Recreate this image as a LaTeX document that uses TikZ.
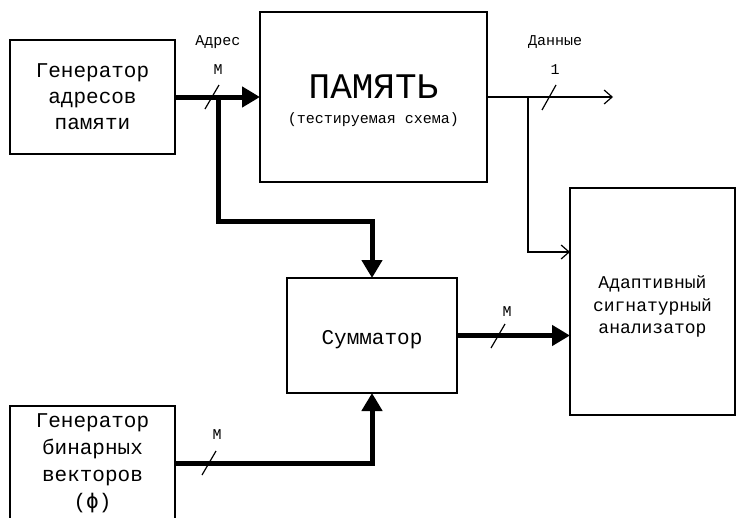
\documentclass[tikz,border=0pt]{standalone}
\usepackage{fontspec}
\newfontfamily\cour{Liberation Mono}
\newfontfamily\dvm{DejaVu Sans Mono}
\usetikzlibrary{arrows.meta,calc}
\begin{document}
\begin{tikzpicture}[x=1pt,y=-1pt,
 box/.style={draw, line width=1.2pt, inner sep=0pt, outer sep=0pt},
 bus/.style={line width=5pt, line join=miter, -{Triangle[length=18pt,width=20pt]}},
 wire/.style={line width=1.2pt, -{Straight Barb[length=8pt,width=14pt,line width=1.2pt]}},
 tickmark/.style={line width=1.2pt},
 lbl/.style={font=\cour\fontsize{15}{15}\selectfont, inner sep=0pt},
 boxtext/.style={font=\cour\fontsize{21}{26}\selectfont, align=center},
]
\useasboundingbox (0,0) rectangle (736,517);
\clip (0,0) rectangle (736,517);

% boxes
\node[box, minimum width=165pt, minimum height=114pt, boxtext] (gen1) at (92.5,97) {Генератор\\адресов\\памяти};
\node[box, minimum width=227pt, minimum height=170pt] (mem) at (373.5,97) {};
\node[font=\cour\fontsize{36}{36}\selectfont, inner sep=0pt, anchor=base] (memtitle) at (373.5,98) {ПАМЯТЬ};
\node[lbl, anchor=base] (memsub) at (373.5,123) {(тестируемая схема)};
\node[box, minimum width=170pt, minimum height=115pt] (sum) at (372,335.5) {};
\node[boxtext] (sumtext) at (372,340) {Сумматор};
\node[box, minimum width=165pt, minimum height=227pt] (anal) at (652.5,301.5) {};
\node[font=\cour\fontsize{18}{22.5}\selectfont, align=center] (analtext) at (652.5,306.5) {Адаптивный\\сигнатурный\\анализатор};
\node[box, minimum width=165pt, minimum height=140pt] (gen2) at (92.5,476) {};
\node[boxtext, font=\cour\fontsize{21}{27}\selectfont] (gen2text) at (92.5,463) {Генератор\\бинарных\\векторов\\({\dvm ϕ})};

% junction coordinates
\coordinate (ja) at (218,97);
\coordinate (jb) at (372,221);
\coordinate (dend) at (613,97);
\coordinate (jd) at (528,97);
\coordinate (jg) at (372,463);

% address bus
\draw[bus] (gen1.east) -- (gen1.east -| mem.west);
\draw[bus] (ja) |- (jb) -- (sum.north);
% data
\draw[wire] (mem.east) -- (dend);
\draw[wire] (jd) |- ($(anal.west)+(0,-49.5)$);
% summator output
\draw[bus] (sum.east) -- (sum.east -| anal.west);
% binary vectors
\draw[bus] (gen2.east |- jg) -- (jg) -- (sum.south);

% width ticks
\draw[tickmark] (205,109) -- (219,85);
\draw[tickmark] (542,110) -- (556,85);
\draw[tickmark] (491,348) -- (505,324);
\draw[tickmark] (202,475) -- (216,451);

% labels
\node[lbl] (ladr) at (218,42) {Адрес};
\node[lbl] (lm1) at (218,70) {M};
\node[lbl] (ldat) at (555,42) {Данные};
\node[lbl] (l1) at (555,70) {1};
\node[lbl] (lm2) at (507,312) {M};
\node[lbl] (lm3) at (217,435) {M};
\end{tikzpicture}
\end{document}
